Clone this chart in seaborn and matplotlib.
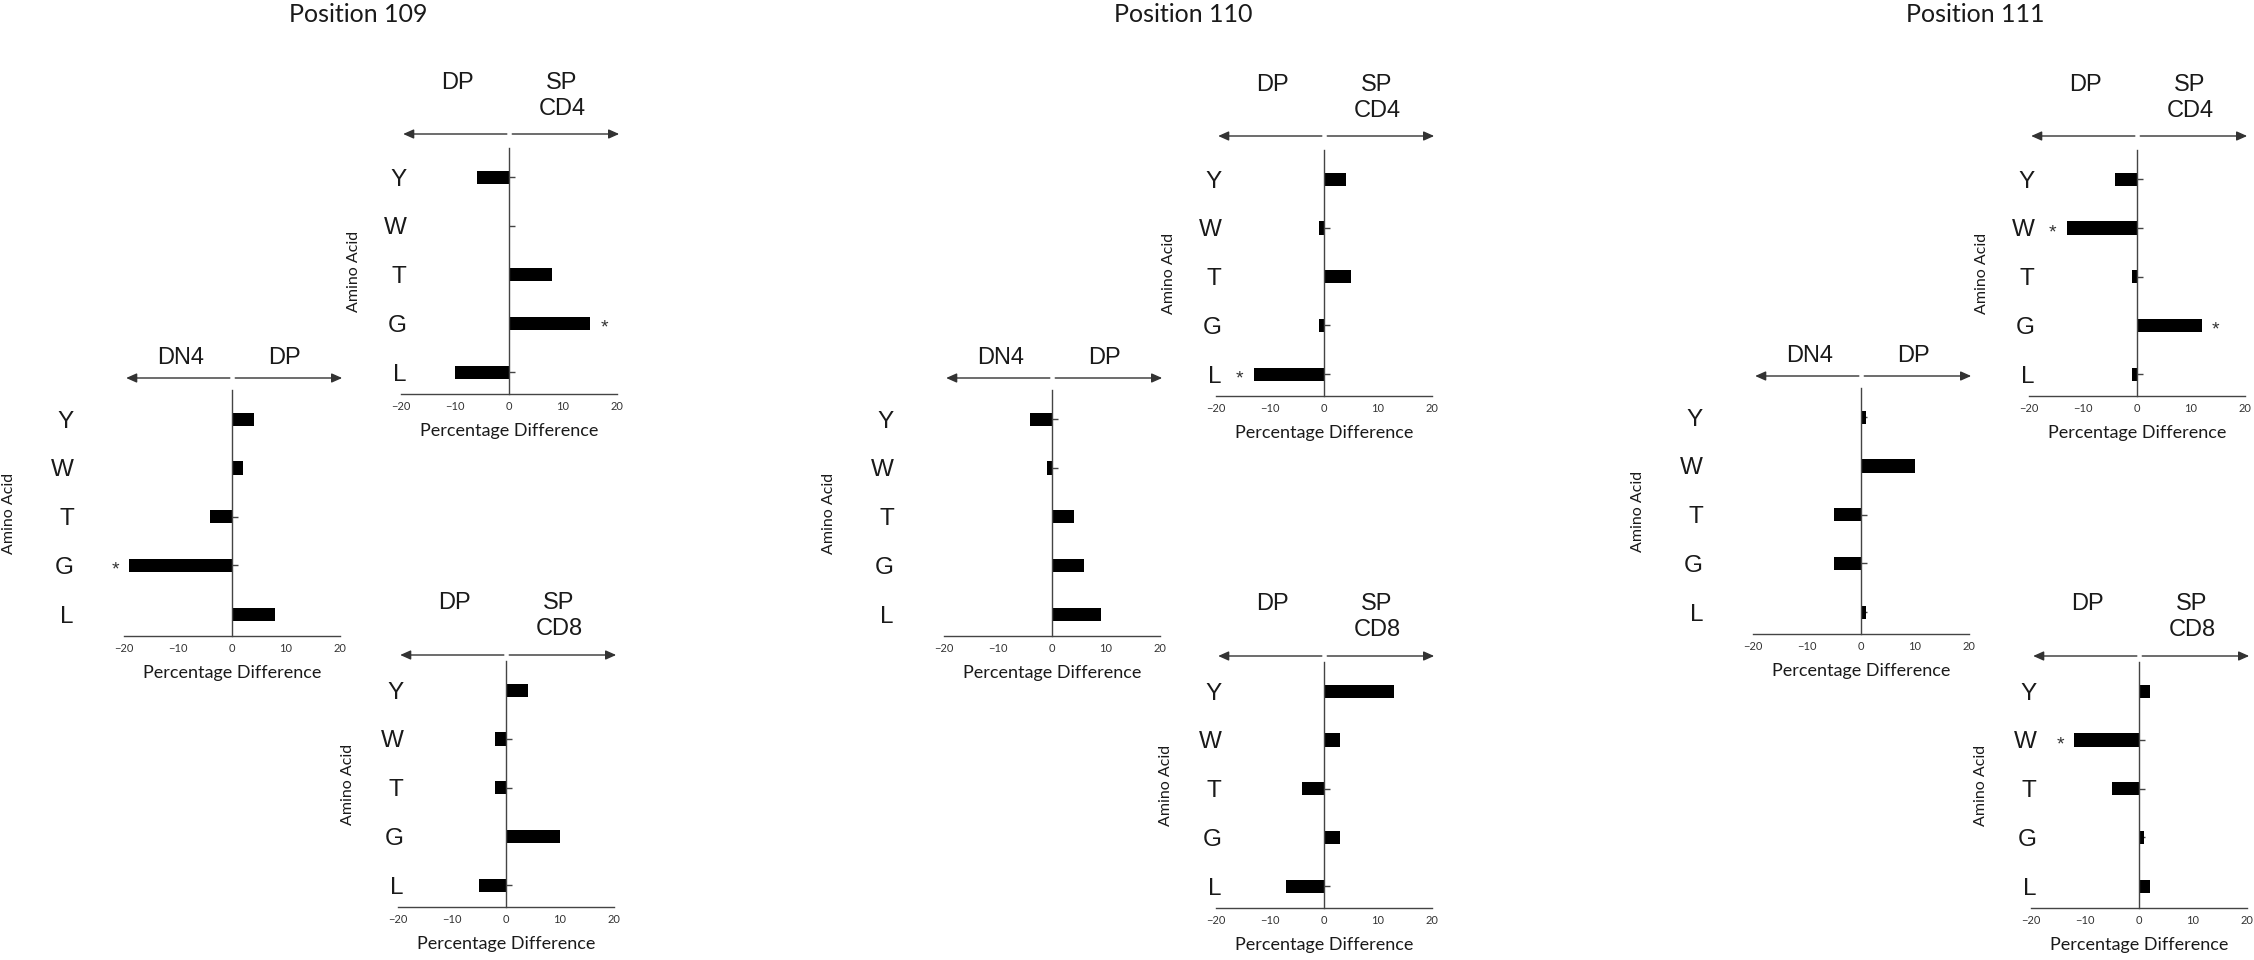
import numpy as np
import pandas as pd
import matplotlib
matplotlib.use('Agg')
import matplotlib.pyplot as plt
import seaborn as sns

amino = ['Y', 'W', 'T', 'G', 'L']
positions = ['109', '110', '111']

# percentage difference per amino acid (order Y W T G L)
dn4_dp_109 = [4, 2, -4, -19, 8]
dp_cd4_109 = [-6, 0, 8, 15, -10]
dp_cd8_109 = [4, -2, -2, 10, -5]

dn4_dp_110 = [-4, -1, 4, 6, 9]
dp_cd4_110 = [4, -1, 5, -1, -13]
dp_cd8_110 = [13, 3, -4, 3, -7]

dn4_dp_111 = [1, 10, -5, -5, 1]
dp_cd4_111 = [-4, -13, -1, 12, -1]
dp_cd8_111 = [2, -12, -5, 1, 2]

# amino acids marked with *
sig_dn4_dp = {'109': ['G'], '110': [], '111': []}
sig_dp_cd4 = {'109': ['G'], '110': ['L'], '111': ['W', 'G']}
sig_dp_cd8 = {'109': [], '110': [], '111': ['W']}

# arrow labels (left, right)
comp_labels = {'dn4_dp': ('DN4', 'DP'), 'dp_cd4': ('DP', 'SP\nCD4'), 'dp_cd8': ('DP', 'SP\nCD8')}

values = {
    ('109', 'dn4_dp'): dn4_dp_109, ('109', 'dp_cd4'): dp_cd4_109, ('109', 'dp_cd8'): dp_cd8_109,
    ('110', 'dn4_dp'): dn4_dp_110, ('110', 'dp_cd4'): dp_cd4_110, ('110', 'dp_cd8'): dp_cd8_110,
    ('111', 'dn4_dp'): dn4_dp_111, ('111', 'dp_cd4'): dp_cd4_111, ('111', 'dp_cd8'): dp_cd8_111,
}
sigs = {'dn4_dp': sig_dn4_dp, 'dp_cd4': sig_dp_cd4, 'dp_cd8': sig_dp_cd8}

rows = []
for (pos, comp), vals in values.items():
    for a, v in zip(amino, vals):
        rows.append({'position': pos, 'comparison': comp, 'amino': a, 'diff': v})
df = pd.DataFrame(rows)

# layout in pixels
W, H = 2254, 960
AW, AH = 216, 246
boxes = {
    ('109', 'dn4_dp'): (124, 390), ('109', 'dp_cd4'): (401, 148), ('109', 'dp_cd8'): (398, 661),
    ('110', 'dn4_dp'): (944, 390), ('110', 'dp_cd4'): (1216, 150), ('110', 'dp_cd8'): (1216, 662),
    ('111', 'dn4_dp'): (1753, 388), ('111', 'dp_cd4'): (2029, 150), ('111', 'dp_cd8'): (2031, 662),
}
title_x = {'109': 358, '110': 1183, '111': 1975}
# per comparison: ticklabel pad (pt), ylabel x (axes frac), arrow gap (px), label gap (px)
style = {
    'dn4_dp': (32, -0.5, 12, 31),
    'dp_cd4': (-8, -0.185, 14, 62),
    'dp_cd8': (-8, -0.2, 6, 63),
}

sns.set_style('white')
plt.rcParams['font.family'] = ['Lato', 'DejaVu Sans']
line_c = '#444444'
text_c = '#1a1a1a'

fig = plt.figure(figsize=(W / 100, H / 100), dpi=100)

for pos in positions:
    fig.text(title_x[pos] / W, 1 - 14 / H, f'Position {pos}', ha='center', va='center',
             fontsize=18, color=text_c)
    for comp in comp_labels:
        x0, y0 = boxes[(pos, comp)]
        ax = fig.add_axes([x0 / W, 1 - (y0 + AH) / H, AW / W, AH / H])
        sub = df[(df['position'] == pos) & (df['comparison'] == comp)]
        sns.barplot(data=sub, x='diff', y='amino', order=amino, orient='h', color='black',
                    saturation=1, width=0.27, linewidth=0, ax=ax)
        ax.set_xlim(-20, 20)
        ax.set_ylim(4.45, -0.6)

        pad, ylab_x, arrow_px, lab_px = style[comp]

        ax.spines['top'].set_visible(False)
        ax.spines['left'].set_visible(False)
        ax.spines['right'].set_position(('data', 0))
        ax.spines['right'].set_color(line_c)
        ax.spines['right'].set_linewidth(1)
        ax.spines['bottom'].set_bounds(-20, 20)
        ax.spines['bottom'].set_color(line_c)
        ax.spines['bottom'].set_linewidth(1)

        ax.set_xticks([-20, -10, 0, 10, 20])
        ax.tick_params(axis='x', direction='in', length=5, width=1, color=line_c,
                       labelsize=8, pad=5, labelcolor='#333333')
        ax.tick_params(axis='y', left=False, right=True, labelleft=True, labelright=False,
                       direction='out', length=4, width=1, color=line_c, pad=pad)
        for lab in ax.get_yticklabels():
            lab.set_fontfamily('Liberation Sans')
            lab.set_fontsize(17.5)
            lab.set_color(text_c)

        ax.set_ylabel('Amino Acid', fontsize=11.5, color=text_c)
        ax.yaxis.set_label_coords(ylab_x, 0.5)
        ax.set_xlabel('Percentage Difference', fontsize=13, color=text_c)
        ax.xaxis.set_label_coords(0.5, -37 / AH)
        ax.xaxis.label.set_va('center')

        # direction arrows and labels
        trans = ax.get_xaxis_transform()
        ya = 1 + arrow_px / AH
        aprops = dict(arrowstyle='-|>,head_length=0.45,head_width=0.2', color='#333333', lw=1,
                      mutation_scale=14, shrinkA=0, shrinkB=0)
        ax.annotate('', xy=(-19.6, ya), xytext=(-0.4, ya), xycoords=trans, textcoords=trans,
                    arrowprops=aprops, annotation_clip=False)
        ax.annotate('', xy=(20.4, ya), xytext=(0.6, ya), xycoords=trans, textcoords=trans,
                    arrowprops=aprops, annotation_clip=False)
        yl = ya + lab_px / AH
        left_lab, right_lab = comp_labels[comp]
        ax.text(-9.5, yl, left_lab, transform=trans, ha='center', va='top', fontsize=17,
                family='Liberation Sans', color=text_c)
        ax.text(9.8, yl, right_lab, transform=trans, ha='center', va='top', fontsize=17,
                family='Liberation Sans', color=text_c, linespacing=1.25)

        # significance stars
        vals = values[(pos, comp)]
        for a in sigs[comp][pos]:
            i = amino.index(a)
            v = vals[i]
            ax.text(v + np.sign(v) * 2.6, i + 0.1, '*', ha='center', va='center',
                    fontsize=14, family='Liberation Sans', color='#333333')

fig.savefig('out.png', dpi=100)
